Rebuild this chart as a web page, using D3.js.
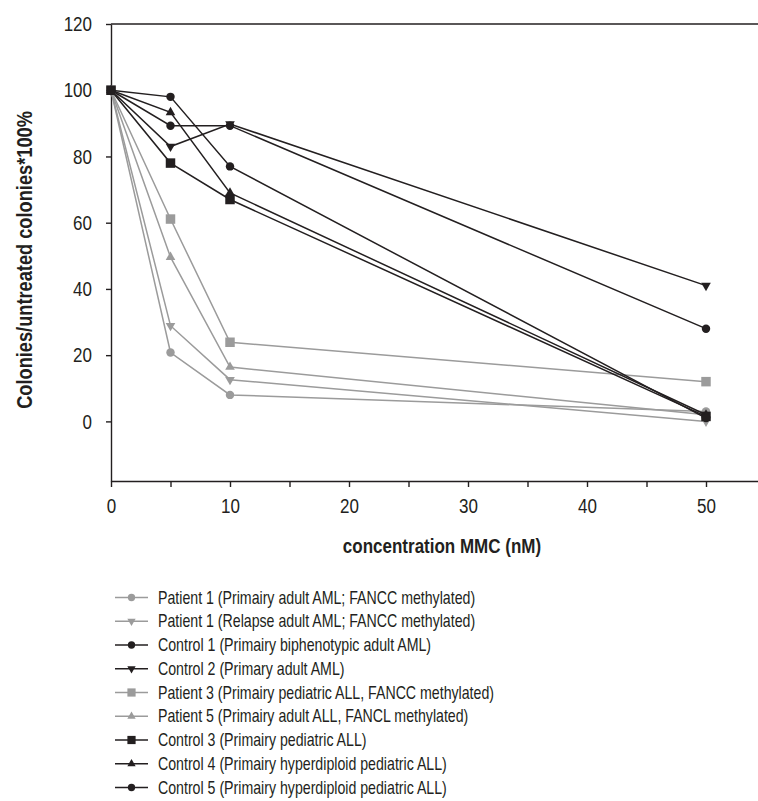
<!DOCTYPE html>
<html>
<head>
<meta charset="utf-8">
<script src="https://cdn.jsdelivr.net/npm/d3@7/dist/d3.min.js"></script>
<style>
  html, body { margin: 0; padding: 0; background: #fff; }
  svg { display: block; }
  text { font-family: "Liberation Sans", Arial, sans-serif; fill: #231f20; }
</style>
</head>
<body>
<script>
// ---- data ----
const concentrations = [0, 5, 10, 50];
const seriesNames = [
  "Patient 1 (Primairy adult AML; FANCC methylated)",
  "Patient 1 (Relapse adult AML; FANCC methylated)",
  "Control 1 (Primairy biphenotypic adult AML)",
  "Control 2 (Primary adult AML)",
  "Patient 3 (Primairy pediatric ALL, FANCC methylated)",
  "Patient 5 (Primairy adult ALL, FANCL methylated)",
  "Control 3 (Primairy pediatric ALL)",
  "Control 4 (Primairy hyperdiploid pediatric ALL)",
  "Control 5 (Primairy hyperdiploid pediatric ALL)"
];
const patient1Primary = [100, 20.8, 8.0, 3.0];
const patient1Relapse = [100, 28.9, 12.6, 0];
const control1 = [100, 89.3, 89.3, 28.0];
const control2 = [100, 83.0, 89.8, 41.0];
const patient3 = [100, 61.1, 23.9, 12.0];
const patient5 = [100, 49.6, 16.4, 2.0];
const control3 = [100, 78.0, 67.0, 1.5];
const control4 = [100, 93.3, 69.0, 2.0];
const control5 = [100, 98.0, 77.0, 1.0];
const seriesValues = [patient1Primary, patient1Relapse, control1, control2, patient3, patient5, control3, control4, control5];
const seriesColors = ["gray", "gray", "black", "black", "gray", "gray", "black", "black", "black"];
const seriesMarkers = ["circle", "down", "circle", "down", "square", "up", "square", "up", "circle"];
const yTicks = [0, 20, 40, 60, 80, 100, 120];
const xTicks = [0, 5, 10, 15, 20, 25, 30, 35, 40, 45, 50, 55];
const xTitle = "concentration MMC (nM)";
const yTitle = "Colonies/untreated colonies*100%";

// ---- drawing ----
const W = 758, H = 801;
const COND = 0.81; // horizontal condensing of text
const colorMap = { gray: "#9b9b9b", black: "#231f20" };
const svg = d3.select("body").append("svg").attr("width", W).attr("height", H);

const x = d3.scaleLinear().domain([0, 55]).range([111, 765.5]);
const y = d3.scaleLinear().domain([-18, 120]).range([481, 24]);

function symbolPath(kind, scale) {
  const s = scale || 1;
  if (kind === "circle") return d3.symbol(d3.symbolCircle, 56 * s)();
  if (kind === "square") return d3.symbol(d3.symbolSquare, 90 * s)();
  return d3.symbol(d3.symbolTriangle, 40 * s)();
}
function symbolRotate(kind) { return kind === "down" ? " rotate(180)" : ""; }

// condense a text element horizontally about its anchor point
function condense(sel) {
  sel.each(function () {
    const t = d3.select(this);
    const tx = +t.attr("x") || 0;
    const ty = +t.attr("y") || 0;
    const prev = t.attr("transform") || "";
    t.attr("x", 0).attr("y", 0)
     .attr("transform", `${prev} translate(${tx},${ty}) scale(${COND},1)`);
  });
}

// Top border line
svg.append("line")
  .attr("x1", x(0)).attr("x2", W)
  .attr("y1", y(120)).attr("y2", y(120))
  .attr("stroke", "#231f20").attr("stroke-width", 1.4);

// Y axis
const yAxis = svg.append("g")
  .attr("transform", `translate(${x(0)},0)`)
  .call(d3.axisLeft(y).tickValues(yTicks).tickSize(5).tickSizeOuter(0).tickPadding(14));
yAxis.select(".domain").attr("stroke", "#231f20").attr("stroke-width", 1.4);
yAxis.selectAll(".tick line").attr("stroke", "#231f20").attr("stroke-width", 1.4);
yAxis.selectAll(".tick text").attr("font-size", 21).style("font-family", null).call(condense);

// X axis
const xAxis = svg.append("g")
  .attr("transform", `translate(0,${y(-18)})`)
  .call(d3.axisBottom(x).tickValues(xTicks).tickSize(6).tickSizeOuter(0).tickPadding(11)
    .tickFormat(d => d % 10 === 0 ? d3.format("d")(d) : ""));
xAxis.select(".domain").attr("stroke", "#231f20").attr("stroke-width", 1.4);
xAxis.selectAll(".tick line").attr("stroke", "#231f20").attr("stroke-width", 1.4);
xAxis.selectAll(".tick text").attr("font-size", 21).style("font-family", null).call(condense);

// Axis titles
svg.append("text")
  .attr("x", 442).attr("y", 553)
  .attr("text-anchor", "middle")
  .attr("font-size", 21).attr("font-weight", "bold")
  .text(xTitle).call(condense);
svg.append("text")
  .attr("transform", `translate(32,260) rotate(-90) scale(${COND},1)`)
  .attr("text-anchor", "middle")
  .attr("font-size", 22.5).attr("font-weight", "bold")
  .text(yTitle);

// Series lines and markers
const line = d3.line().x((d, i) => x(concentrations[i])).y(d => y(d));
seriesValues.forEach((vals, si) => {
  const col = colorMap[seriesColors[si]];
  const g = svg.append("g");
  g.append("path")
    .attr("d", line(vals))
    .attr("fill", "none")
    .attr("stroke", col)
    .attr("stroke-width", 1.5);
  g.selectAll("path.mk")
    .data(vals)
    .enter().append("path")
    .attr("class", "mk")
    .attr("d", symbolPath(seriesMarkers[si]))
    .attr("transform", (d, i) => `translate(${x(concentrations[i])},${y(d)})` + symbolRotate(seriesMarkers[si]))
    .attr("fill", col);
});

// Legend
const legend = svg.append("g");
seriesNames.forEach((name, i) => {
  const cy = 597.5 + i * 23.75;
  const col = colorMap[seriesColors[i]];
  legend.append("line")
    .attr("x1", 115).attr("x2", 148)
    .attr("y1", cy).attr("y2", cy)
    .attr("stroke", col).attr("stroke-width", 1.6);
  legend.append("path")
    .attr("d", symbolPath(seriesMarkers[i], 0.75))
    .attr("transform", `translate(131.5,${cy})` + symbolRotate(seriesMarkers[i]))
    .attr("fill", col);
  legend.append("text")
    .attr("x", 158).attr("y", cy)
    .attr("dy", "0.35em")
    .attr("font-size", 17.5)
    .text(name).call(condense);
});
</script>
</body>
</html>
